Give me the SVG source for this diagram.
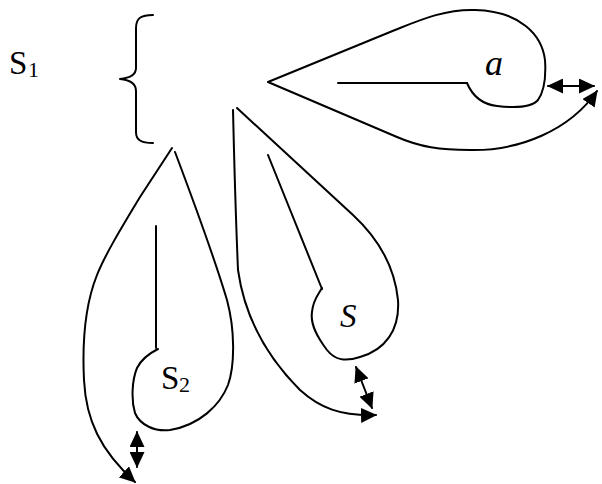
<svg xmlns="http://www.w3.org/2000/svg" width="602" height="484" viewBox="0 0 602 484">
<style>
.ln{fill:none;stroke:#000;stroke-width:2;stroke-linecap:round;stroke-linejoin:round}
.ar{marker-end:url(#ah)}
.da{marker-start:url(#ah);marker-end:url(#ah)}
.t{font-family:"Liberation Serif","Times New Roman",serif;fill:#000}
.it{font-style:italic}
</style>
<defs>
<marker id="ah" viewBox="0 0 16 15" refX="15" refY="7.5" markerWidth="16" markerHeight="15" markerUnits="userSpaceOnUse" orient="auto-start-reverse">
<path d="M0,0 L16,7.5 L0,15 z" fill="#000"/>
</marker>
</defs>
<rect width="602" height="484" fill="#fff"/>
<g id="label-s1">
<text class="t" x="9" y="74" font-size="33">S</text>
<text class="t" x="28" y="77" font-size="22">1</text>
</g>
<g id="brace">
<path class="ln" d="M153,15 C141,15 136,18 136,28 L136,68 C136,75 130,78 120,79 C130,80 136,84 136,91 L136,132 C136,140 141,143 153,143"/>
</g>
<g id="loop-a">
<path class="ln ar" d="M467,83 C472,95 480,104 497,106 C515,108 532,107 538,100 C545,90 546,75 545,60 C542,35 520,11 475,10 C445,9 420,20 395,30 L268,82 L397,137 C420,147 440,150 470,150 C520,151 570,130 597,91"/>
<path class="ln" d="M338,83 L467,83"/>
<text class="t it" x="485" y="75" font-size="36">a</text>
<path class="ln da" d="M548,86 L594,86"/>
</g>
<g id="loop-s">
<path class="ln" d="M237,108 L353,215 C380,240 395,270 398,300 C400,330 385,350 360,357 C345,362 335,360 327,350 C318,338 310,325 312,312 C313,300 318,295 322,288"/>
<path class="ln" d="M268,155 L322,289"/>
<path class="ln ar" d="M233,110 C234,150 235,200 238,270 C245,320 270,360 300,390 C320,408 340,416 376,415"/>
<text class="t it" x="340" y="327" font-size="33">S</text>
<path class="ln da" d="M356,367 L372,408"/>
</g>
<g id="loop-s2">
<path class="ln" d="M175,152 C195,205 215,260 227,300 C235,330 235,365 228,385 C220,405 200,425 170,430 C155,432 140,425 135,413 C131,400 132,380 137,368 C141,360 150,353 158,349"/>
<path class="ln" d="M156,226 L156,348"/>
<path class="ln ar" d="M172,148 L140,197 C120,230 105,255 97,275 C85,305 82,340 84,380 C86,420 100,450 135,482"/>
<text class="t" x="161" y="389" font-size="33">S</text>
<text class="t" x="179" y="392" font-size="22">2</text>
<path class="ln da" d="M137,432 L137,467"/>
</g>
</svg>
